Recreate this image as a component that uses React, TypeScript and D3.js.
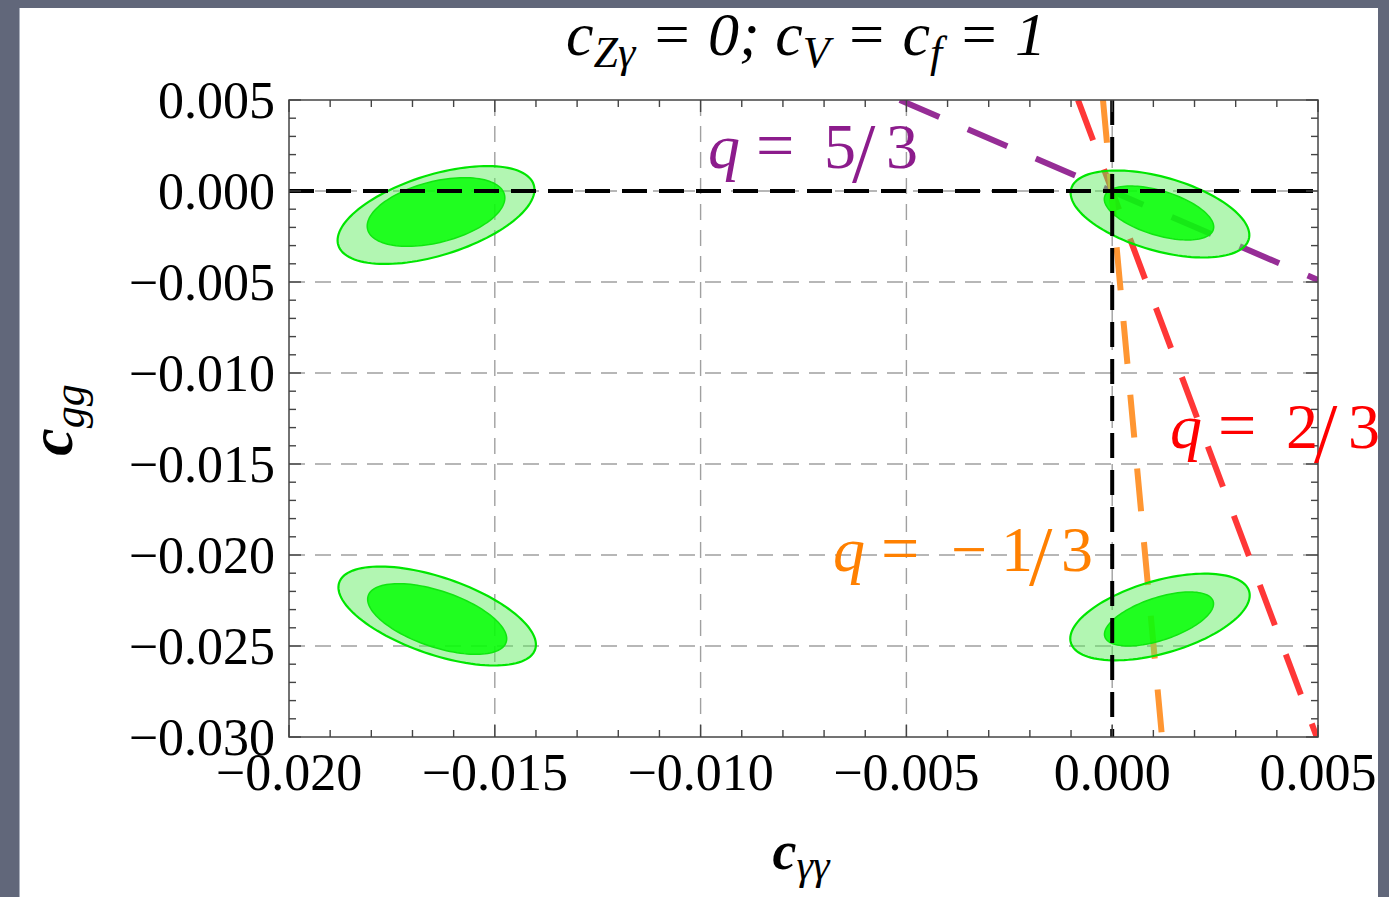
import React from 'react';
import * as d3 from 'd3';

// ---- data ----
const xTicks = [-0.02, -0.015, -0.01, -0.005, 0, 0.005];
const yTicks = [0.005, 0, -0.005, -0.01, -0.015, -0.02, -0.025, -0.03];

// contour regions: center + two conjugate semi-axis vectors (data units)
const outerRegions = [
  { cx: -0.016428, cy: -0.001319, ux: 0.002374, uy: 0.001662, vx: 0.00029, vy: -0.002115 },
  { cx: 0.001161, cy: -0.001264, ux: 0.002157, uy: -0.00139, vx: -0.000245, vy: -0.001945 },
  { cx: -0.016400, cy: -0.023352, ux: 0.00238, uy: -0.001840, vx: -0.000301, vy: -0.002002 },
  { cx: 0.001161, cy: -0.023407, ux: 0.002166, uy: 0.001414, vx: 0.000245, vy: -0.001916 },
];
const innerRegions = [
  { cx: -0.016428, cy: -0.001154, ux: 0.001662, uy: 0.000958, vx: 0.000183, vy: -0.001624 },
  { cx: 0.001137, cy: -0.001209, ux: 0.00132, uy: -0.000913, vx: -0.000158, vy: -0.001166 },
  { cx: -0.016400, cy: -0.023516, ux: 0.001675, uy: -0.001282, vx: -0.000218, vy: -0.001457 },
  { cx: 0.001137, cy: -0.023516, ux: 0.001315, uy: 0.000983, vx: 0.000163, vy: -0.001111 },
];

const qNames = ['5/3', '2/3', '−1/3'];
const qLineStart = [[-0.00516, 0.005], [-0.000831, 0.005], [-0.000224, 0.005]];
const qLineEnd = [[0.005, -0.00489], [0.00497, -0.03], [0.00121, -0.03]];

// ---- layout ----
const W = 1389, H = 897;
const L = 289, R = 1318, T = 100, B = 737;
const serif = '"Liberation Serif", "Times New Roman", Times, serif';

const qLineColors = ['rgb(150,45,150)', 'rgb(255,55,55)', 'rgb(255,150,50)'];
const qTextColors = ['rgb(140,28,140)', 'rgb(255,0,0)', 'rgb(255,128,0)'];

export default function App() {
  const x = d3.scaleLinear().domain([-0.02, 0.005]).range([L, R]);
  const y = d3.scaleLinear().domain([-0.03, 0.005]).range([B, T]);
  const xMinor = x.ticks(25);
  const yMinor = y.ticks(35);
  const fmt = (v: number) => d3.format('.3f')(v).replace('-', '−');

  const ellipsePath = (e: any) => {
    const pts = d3.range(0, 120).map((i) => {
      const t = (i / 120) * 2 * Math.PI;
      return [e.cx + e.ux * Math.cos(t) + e.vx * Math.sin(t), e.cy + e.uy * Math.cos(t) + e.vy * Math.sin(t)];
    });
    return d3.line<number[]>().x((d) => x(d[0])).y((d) => y(d[1])).curve(d3.curveLinearClosed)(pts) as string;
  };

  const labelPos = [
    { x: 708, y: 168 },
    { x: 1170, y: 448 },
    { x: 833, y: 571 },
  ];

  const renderQ = (i: number) => {
    const p = labelPos[i];
    const neg = qNames[i].startsWith('−');
    const digits = neg
      ? [['−', 118], ['1', 168], ['3', 228]]
      : [[qNames[i][0], 116], ['3', 178]];
    const slashX = neg ? 196 : 144;
    return (
      <text key={'ql' + i} fontFamily={serif} fontSize={64} fill={qTextColors[i]}>
        <tspan x={p.x} y={p.y} fontStyle="italic">q</tspan>
        <tspan x={p.x + 48} y={p.y} fontSize={68}>=</tspan>
        {digits.map(([s, dx], k) => (
          <tspan key={k} x={p.x + (dx as number)} y={p.y}>{s}</tspan>
        ))}
        <tspan x={p.x + slashX} y={p.y + 14} fontSize={84}>/</tspan>
      </text>
    );
  };

  return (
    <svg width={W} height={H} style={{ position: 'absolute', left: 0, top: 0 }} xmlns="http://www.w3.org/2000/svg">
      <defs>
        <clipPath id="plotclip">
          <rect x={L} y={T} width={R - L} height={B - T} />
        </clipPath>
      </defs>
      <rect x={0} y={0} width={W} height={H} fill="#61677a" />
      <rect x={19} y={8} width={1359} height={H} fill="#ffffff" />
      <line x1={19.5} y1={8} x2={19.5} y2={H} stroke="#aab0bd" strokeWidth={1} />

      {/* grid */}
      <g stroke="#a0a0a0" strokeWidth={1.4} strokeDasharray="16 10">
        {xTicks.slice(1, -1).map((t) => (
          <line key={'gx' + t} x1={x(t)} x2={x(t)} y1={T} y2={B} />
        ))}
        {yTicks.slice(1, -1).map((t) => (
          <line key={'gy' + t} x1={L} x2={R} y1={y(t)} y2={y(t)} />
        ))}
      </g>

      {/* q lines */}
      <g clipPath="url(#plotclip)" fill="none" strokeWidth={6} strokeDasharray="43 31">
        {qNames.map((n, i) => (
          <line key={'q' + i}
            x1={x(qLineStart[i][0])} y1={y(qLineStart[i][1])}
            x2={x(qLineEnd[i][0])} y2={y(qLineEnd[i][1])}
            stroke={qLineColors[i]} />
        ))}
      </g>

      {/* contours */}
      {outerRegions.map((e, i) => (
        <path key={'o' + i} d={ellipsePath(e)} fill="rgb(95,236,95)" fillOpacity={0.48} stroke="#00e600" strokeWidth={2.2} />
      ))}
      {innerRegions.map((e, i) => (
        <path key={'i' + i} d={ellipsePath(e)} fill="rgb(0,255,0)" fillOpacity={0.82} stroke="#10e610" strokeWidth={1.5} />
      ))}

      {/* zero lines */}
      <g stroke="#000" strokeWidth={4} strokeDasharray="25 12">
        <line x1={L} x2={R} y1={y(0)} y2={y(0)} />
        <line x1={x(0)} x2={x(0)} y1={T} y2={B} />
      </g>

      {/* frame & ticks */}
      <rect x={L} y={T} width={R - L} height={B - T} fill="none" stroke="#444" strokeWidth={1.5} />
      <g stroke="#444" strokeWidth={1.4}>
        {xMinor.map((t) => {
          const len = xTicks.some((m) => Math.abs(m - t) < 1e-9) ? 12 : 7;
          return (
            <g key={'xt' + t}>
              <line x1={x(t)} x2={x(t)} y1={B} y2={B - len} />
              <line x1={x(t)} x2={x(t)} y1={T} y2={T + len} />
            </g>
          );
        })}
        {yMinor.map((t) => {
          const len = yTicks.some((m) => Math.abs(m - t) < 1e-9) ? 12 : 7;
          return (
            <g key={'yt' + t}>
              <line x1={L} x2={L + len} y1={y(t)} y2={y(t)} />
              <line x1={R} x2={R - len} y1={y(t)} y2={y(t)} />
            </g>
          );
        })}
      </g>

      {/* tick labels */}
      <g fontFamily={serif} fontSize={52} fill="#000">
        {yTicks.map((t) => (
          <text key={'yl' + t} x={275} y={y(t) + 18} textAnchor="end">{fmt(t)}</text>
        ))}
        {xTicks.map((t) => (
          <text key={'xl' + t} x={x(t)} y={790} textAnchor="middle">{fmt(t)}</text>
        ))}
      </g>

      {/* title */}
      <text x={806} y={55} textAnchor="middle" fontFamily={serif} fontStyle="italic" fontSize={62} fill="#000">
        <tspan>c</tspan>
        <tspan fontSize={44} dy={12}>Zγ</tspan>
        <tspan dy={-12}> = 0; c</tspan>
        <tspan fontSize={44} dy={12}>V</tspan>
        <tspan dy={-12}> = c</tspan>
        <tspan fontSize={44} dy={12}>f</tspan>
        <tspan dy={-12}> = 1</tspan>
      </text>

      {/* axis labels */}
      <text x={801} y={869} textAnchor="middle" fontFamily={serif} fill="#000">
        <tspan fontStyle="italic" fontWeight="bold" fontSize={54}>c</tspan>
        <tspan fontStyle="italic" fontSize={42} dy={10}>γγ</tspan>
      </text>
      <text transform="translate(72,420) rotate(-90)" textAnchor="middle" fontFamily={serif} fill="#000">
        <tspan fontStyle="italic" fontWeight="bold" fontSize={62}>c</tspan>
        <tspan fontStyle="italic" fontSize={44} dy={12}>gg</tspan>
      </text>

      {/* q labels */}
      {qNames.map((_, i) => renderQ(i))}
    </svg>
  );
}
